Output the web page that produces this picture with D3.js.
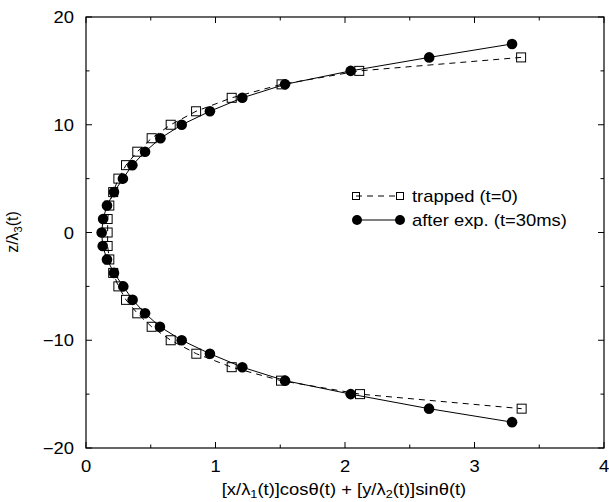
<!DOCTYPE html>
<html>
<head>
<meta charset="utf-8">
<script src="https://cdn.jsdelivr.net/npm/d3@7"></script>
<style>
  body { margin: 0; background: #fff; }
  text { font-family: "Liberation Sans", Arial, sans-serif; fill: #000; }
</style>
</head>
<body>
<svg id="chart" width="609" height="502"></svg>
<script>
// trapped (t=0): open squares, dashed line
var trappedZ = [16.25, 15, 13.75, 12.5, 11.25, 10, 8.75, 7.5, 6.25, 5, 3.75, 2.5, 1.25, 0,
                -1.25, -2.5, -3.75, -5, -6.25, -7.5, -8.75, -10, -11.25, -12.5, -13.75, -15, -16.35];
var trappedX = [3.36, 2.11, 1.51, 1.125, 0.85, 0.654, 0.507, 0.396, 0.309, 0.25, 0.21, 0.18, 0.167, 0.167,
                0.167, 0.18, 0.21, 0.25, 0.309, 0.396, 0.507, 0.654, 0.852, 1.125, 1.506, 2.116, 3.364];

// after expansion (t=30ms): filled circles, solid line
var expZ = [17.5, 16.25, 15, 13.75, 12.5, 11.25, 10, 8.75, 7.5, 6.25, 5, 3.75, 2.5, 1.25, 0,
            -1.25, -2.5, -3.75, -5, -6.25, -7.5, -8.75, -10, -11.25, -12.5, -13.75, -15, -16.35, -17.6];
var expX = [3.29, 2.65, 2.044, 1.537, 1.207, 0.957, 0.739, 0.575, 0.456, 0.358, 0.285, 0.216, 0.162, 0.132, 0.121,
            0.129, 0.162, 0.216, 0.288, 0.36, 0.456, 0.571, 0.739, 0.957, 1.207, 1.537, 2.044, 2.649, 3.29];

var xTicks = [0, 1, 2, 3, 4];
var yTicks = [-20, -10, 0, 10, 20];
var xMinor = [0.5, 1.5, 2.5, 3.5];
var yMinor = [-15, -5, 5, 15];

var svg = d3.select("#chart"),
    pl = 86, pr = 604, pt = 17, pb = 448,
    sx = 1.15; // text in the reference is a bit wider than it is tall

var x = d3.scaleLinear().domain([0, 4]).range([pl, pr]);
var y = d3.scaleLinear().domain([-20, 20]).range([pb, pt]);

// frame
svg.append("rect")
  .attr("x", pl).attr("y", pt)
  .attr("width", pr - pl).attr("height", pb - pt)
  .attr("fill", "none").attr("stroke", "#000").attr("stroke-width", 1.2);

// ticks (inward, mirrored on top and right)
var tk = svg.append("g").attr("stroke", "#000").attr("stroke-width", 1);
function xTick(v, len) {
  tk.append("line").attr("x1", x(v)).attr("x2", x(v)).attr("y1", pb).attr("y2", pb - len);
  tk.append("line").attr("x1", x(v)).attr("x2", x(v)).attr("y1", pt).attr("y2", pt + len);
}
function yTick(v, len) {
  tk.append("line").attr("y1", y(v)).attr("y2", y(v)).attr("x1", pl).attr("x2", pl + len);
  tk.append("line").attr("y1", y(v)).attr("y2", y(v)).attr("x1", pr).attr("x2", pr - len);
}
xTicks.forEach(function(v) { xTick(v, 6); });
xMinor.forEach(function(v) { xTick(v, 3.5); });
yTicks.forEach(function(v) { yTick(v, 6); });
yMinor.forEach(function(v) { yTick(v, 3.5); });

// tick labels
svg.selectAll(".xl").data(xTicks).enter().append("text")
  .attr("transform", function(d) { return "translate(" + x(d) + ",472) scale(" + sx + ",1)"; })
  .attr("text-anchor", "middle")
  .style("font-size", "16px")
  .text(function(d) { return d; });

svg.selectAll(".yl").data(yTicks).enter().append("text")
  .attr("transform", function(d) { return "translate(74," + (y(d) + 6) + ") scale(" + sx + ",1)"; })
  .attr("text-anchor", "end")
  .style("font-size", "16px")
  .text(function(d) { return d < 0 ? "\u2212" + Math.abs(d) : d; });

// axis titles
var xt = svg.append("text")
  .attr("transform", "translate(344,495) scale(" + sx + ",1)")
  .attr("text-anchor", "middle")
  .style("font-size", "16px");
xt.append("tspan").text("[x/\u03bb");
xt.append("tspan").attr("dy", 3).style("font-size", "11px").text("1");
xt.append("tspan").attr("dy", -3).text("(t)]cos\u03b8(t) + [y/\u03bb");
xt.append("tspan").attr("dy", 3).style("font-size", "11px").text("2");
xt.append("tspan").attr("dy", -3).text("(t)]sin\u03b8(t)");

var yt = svg.append("text")
  .attr("transform", "translate(18,232) rotate(-90)")
  .attr("text-anchor", "middle")
  .style("font-size", "16px");
yt.append("tspan").text("z/\u03bb");
yt.append("tspan").attr("dy", 4).style("font-size", "11px").text("3");
yt.append("tspan").attr("dy", -4).text("(t)");

// data
var trapped = trappedX.map(function(v, i) { return [v, trappedZ[i]]; });
var expd = expX.map(function(v, i) { return [v, expZ[i]]; });

var line = d3.line()
  .x(function(d) { return x(d[0]); })
  .y(function(d) { return y(d[1]); });

svg.append("path")
  .datum(trapped)
  .attr("fill", "none")
  .attr("stroke", "#000")
  .attr("stroke-width", 1)
  .attr("stroke-dasharray", "6,5")
  .attr("d", line);

svg.selectAll(".sq").data(trapped).enter().append("rect")
  .attr("x", function(d) { return x(d[0]) - 4.5; })
  .attr("y", function(d) { return y(d[1]) - 4.5; })
  .attr("width", 9).attr("height", 9)
  .attr("fill", "none").attr("stroke", "#000").attr("stroke-width", 1);

svg.append("path")
  .datum(expd)
  .attr("fill", "none")
  .attr("stroke", "#000")
  .attr("stroke-width", 1)
  .attr("d", line);

svg.selectAll(".ci").data(expd).enter().append("circle")
  .attr("cx", function(d) { return x(d[0]); })
  .attr("cy", function(d) { return y(d[1]); })
  .attr("r", 5.3)
  .attr("fill", "#000");

// legend
var lg = svg.append("g");
lg.append("line").attr("x1", 356).attr("x2", 400).attr("y1", 196).attr("y2", 196)
  .attr("stroke", "#000").attr("stroke-dasharray", "6,5");
[356, 400].forEach(function(px) {
  lg.append("rect").attr("x", px - 3.5).attr("y", 192.5).attr("width", 7).attr("height", 7)
    .attr("fill", "none").attr("stroke", "#000");
});
lg.append("text").attr("transform", "translate(412,202) scale(" + sx + ",1)")
  .style("font-size", "16px").text("trapped (t=0)");

lg.append("line").attr("x1", 357).attr("x2", 400).attr("y1", 220).attr("y2", 220)
  .attr("stroke", "#000");
[357, 400].forEach(function(px) {
  lg.append("circle").attr("cx", px).attr("cy", 220).attr("r", 5).attr("fill", "#000");
});
lg.append("text").attr("transform", "translate(412,226) scale(" + sx + ",1)")
  .style("font-size", "16px").text("after exp. (t=30ms)");
</script>
</body>
</html>
